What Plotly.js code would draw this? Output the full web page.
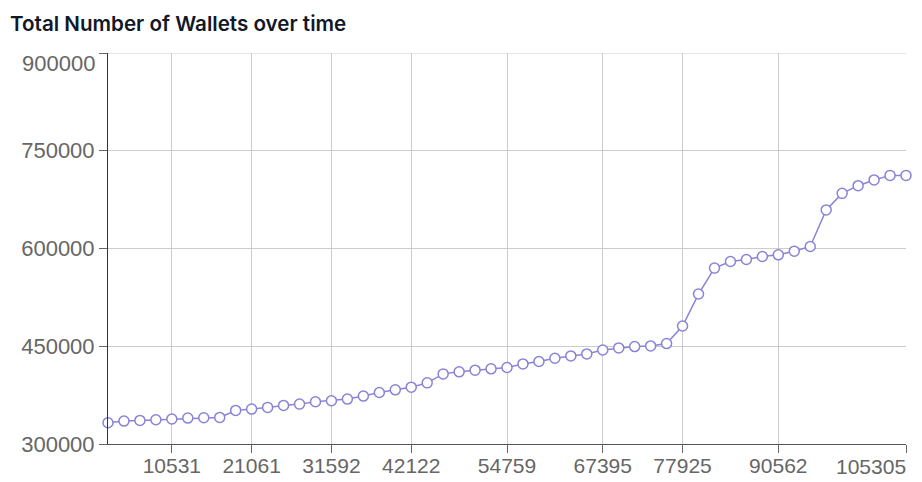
<!DOCTYPE html>
<html>
<head>
<meta charset="utf-8">
<script src="https://cdn.plot.ly/plotly-3.0.1.min.js"></script>
<style>
  html, body { margin: 0; padding: 0; background: #fff; }
  #chart { width: 922px; height: 482px; }
</style>
</head>
<body>
<div id="chart"></div>
<script>
// x categories (block numbers; only some are labelled)
const blocks = [
  2106, 4212, 6318, 8425, 10531,
  12637, 14743, 16849, 18955, 21061,
  23167, 25273, 27380, 29486, 31592,
  33698, 35804, 37910, 40016, 42122,
  44228, 46335, 48441, 50547, 52653, 54759,
  56865, 58971, 61077, 63183, 65290, 67395,
  69501, 71607, 73713, 75819, 77925,
  80031, 82137, 84244, 86350, 88456, 90562,
  92405, 94248, 96091, 97934, 99777, 101620, 103462, 105305
];
// total wallets
const wallets = [
  332600, 335200, 336200, 337200, 338300,
  339800, 340300, 340800, 351500, 353600,
  356200, 359200, 361200, 364800, 366300,
  368900, 373500, 379100, 383100, 387200,
  393800, 407600, 410700, 413300, 415300, 417400,
  422900, 426600, 431600, 435200, 438200, 444300,
  447400, 449500, 450500, 454100, 481100,
  530100, 569900, 580100, 583200, 587800, 590300,
  595900, 603100, 659200, 684600, 696400, 705200, 712200, 712200
];
const xTickLabels = [10531, 21061, 31592, 42122, 54759, 67395, 77925, 90562, 105305];
const yTicks = [300000, 450000, 600000, 750000, 900000];

const trace = {
  type: 'scatter',
  mode: 'lines+markers',
  x: blocks.map(String),
  y: wallets,
  line: { color: '#8884d8', width: 1.5 },
  marker: { size: 10, color: '#ffffff', line: { color: '#8884d8', width: 1.5 } },
  hoverinfo: 'x+y',
  cliponaxis: false
};

const yTickFont = { family: 'Liberation Sans, Arial, sans-serif', size: 22, color: '#666666' };
const xTickFont = { family: 'Liberation Sans, Arial, sans-serif', size: 21, color: '#666666' };
const lastLabel = xTickLabels[xTickLabels.length - 1];
const lastCat = String(blocks[blocks.length - 1]);
const topTick = yTicks[yTicks.length - 1];

const layout = {
  width: 922, height: 482,
  margin: { l: 108, r: 16, t: 53, b: 38 },
  paper_bgcolor: '#ffffff', plot_bgcolor: '#ffffff',
  showlegend: false,
  title: {
    text: 'Total Number of Wallets over time',
    font: { family: 'Inter, Liberation Sans, sans-serif', size: 20.6, color: '#111827', weight: 600 },
    xref: 'container', yref: 'container',
    x: 10 / 922, xanchor: 'left',
    y: 1 - 23.5 / 482, yanchor: 'middle'
  },
  xaxis: {
    type: 'category',
    range: [0, blocks.length - 1],
    tickmode: 'array',
    tickvals: xTickLabels.map(String),
    ticktext: xTickLabels.map((v, i) => i === xTickLabels.length - 1 ? '' : String(v)),
    ticks: 'outside', ticklen: 8, tickcolor: '#666666', tickwidth: 1,
    ticklabelstandoff: -5,
    showline: true, linecolor: '#555555', linewidth: 1,
    showgrid: true, gridcolor: '#cccccc', gridwidth: 1,
    tickfont: xTickFont,
    zeroline: false, fixedrange: true
  },
  yaxis: {
    range: [300000, 900000],
    tickmode: 'array',
    tickvals: yTicks,
    ticktext: yTicks.map(v => v === topTick ? '' : String(v)),
    ticks: 'outside', ticklen: 8, tickcolor: '#666666', tickwidth: 1,
    showline: true, linecolor: '#333333', linewidth: 1,
    showgrid: true, gridcolor: '#cccccc', gridwidth: 1,
    tickfont: yTickFont,
    zeroline: false, fixedrange: true
  },
  shapes: [
    { type: 'line', layer: 'below', xref: 'paper', yref: 'y', x0: 0, x1: 1, y0: topTick, y1: topTick, line: { color: '#cccccc', width: 1 } },
    { type: 'line', layer: 'below', xref: 'x', yref: 'paper', x0: lastCat, x1: lastCat, y0: 0, y1: 1, line: { color: '#cccccc', width: 1 } }
  ],
  annotations: [
    { text: String(lastLabel), xref: 'paper', yref: 'paper', x: 1 + 2 / 798, y: 0, xanchor: 'right', yanchor: 'top', yshift: -9, showarrow: false, font: xTickFont },
    { text: String(topTick), xref: 'paper', yref: 'y', x: 0, y: topTick, xanchor: 'right', yanchor: 'middle', xshift: -11, yshift: -10.5, showarrow: false, font: yTickFont }
  ]
};

Plotly.newPlot('chart', [trace], layout, { displayModeBar: false });
</script>
</body>
</html>
